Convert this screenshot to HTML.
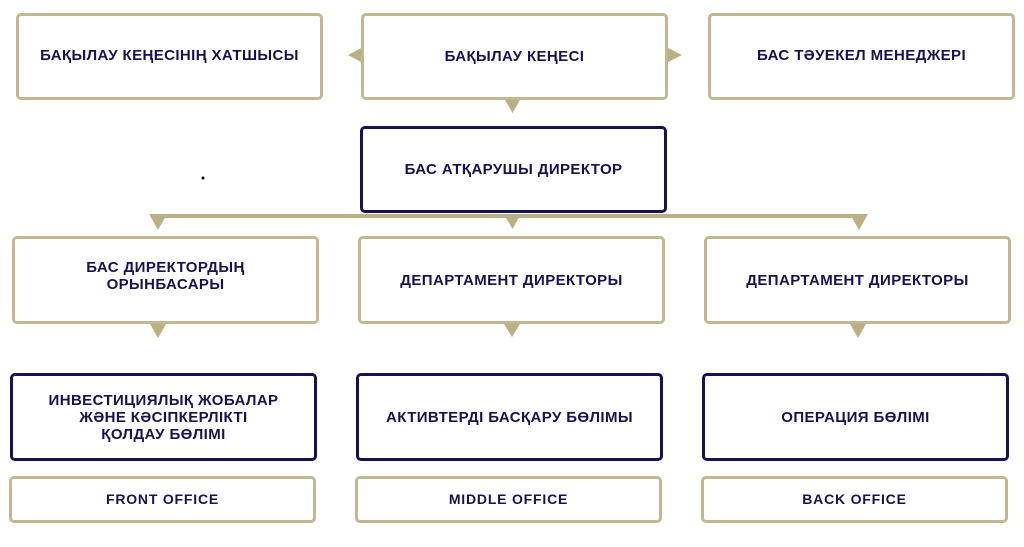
<!DOCTYPE html>
<html><head><meta charset="utf-8"><style>
body{margin:0;width:1024px;height:547px;background:#fff;position:relative;overflow:hidden;font-family:"Liberation Sans","DejaVu Sans",sans-serif;}
.b{position:absolute;box-sizing:border-box;border-radius:5px;display:flex;align-items:center;justify-content:center;text-align:center;color:#17124f;font-weight:bold;font-size:15px;letter-spacing:0.4px;line-height:17px;}
.g{border:3px solid #c0b98f;}
.n{border:3px solid #17124f;}
.o{font-size:14px;letter-spacing:0.8px;}
svg{position:absolute;left:0;top:0;}
</style></head><body>
<svg width="1024" height="547">
<g fill="#b9b184">
<polygon points="361,48 361,62 348,55"/>
<polygon points="668,48 668,62 682,55"/>
<polygon points="505,100 520,100 512.5,113"/>
<rect x="153" y="214" width="712" height="4"/>
<polygon points="149,214 167,214 158,230"/>
<polygon points="504,214 521,214 512.5,229"/>
<polygon points="850,214 868,214 859,230"/>
<polygon points="150,324 166,324 158,338"/>
<polygon points="504,324 520,324 512,337"/>
<polygon points="850,324 866,324 858,338"/>
</g>
<circle cx="203" cy="178" r="1.5" fill="#000"/>
</svg>
<div class="b g" style="left:16px;top:13px;width:307px;height:87px;padding-bottom:2px">БАҚЫЛАУ КЕҢЕСІНІҢ ХАТШЫСЫ</div>
<div class="b g" style="left:361px;top:13px;width:307px;height:87px">БАҚЫЛАУ КЕҢЕСІ</div>
<div class="b g" style="left:708px;top:13px;width:307px;height:87px;padding-bottom:2px">БАС ТӘУЕКЕЛ МЕНЕДЖЕРІ</div>
<div class="b n" style="left:360px;top:126px;width:307px;height:87px">БАС АТҚАРУШЫ ДИРЕКТОР</div>
<div class="b g" style="left:12px;top:236px;width:307px;height:88px;padding-bottom:8px">БАС ДИРЕКТОРДЫҢ<br>ОРЫНБАСАРЫ</div>
<div class="b g" style="left:358px;top:236px;width:307px;height:88px">ДЕПАРТАМЕНТ ДИРЕКТОРЫ</div>
<div class="b g" style="left:704px;top:236px;width:307px;height:88px">ДЕПАРТАМЕНТ ДИРЕКТОРЫ</div>
<div class="b n" style="left:10px;top:373px;width:307px;height:88px">ИНВЕСТИЦИЯЛЫҚ ЖОБАЛАР<br>ЖӘНЕ КӘСІПКЕРЛІКТІ<br>ҚОЛДАУ БӨЛІМІ</div>
<div class="b n" style="left:356px;top:373px;width:307px;height:88px">АКТИВТЕРДІ БАСҚАРУ БӨЛІМЫ</div>
<div class="b n" style="left:702px;top:373px;width:307px;height:88px">ОПЕРАЦИЯ БӨЛІМІ</div>
<div class="b g o" style="left:9px;top:476px;width:307px;height:47px">FRONT OFFICE</div>
<div class="b g o" style="left:355px;top:476px;width:307px;height:47px">MIDDLE OFFICE</div>
<div class="b g o" style="left:701px;top:476px;width:307px;height:47px">BACK OFFICE</div>
</body></html>
